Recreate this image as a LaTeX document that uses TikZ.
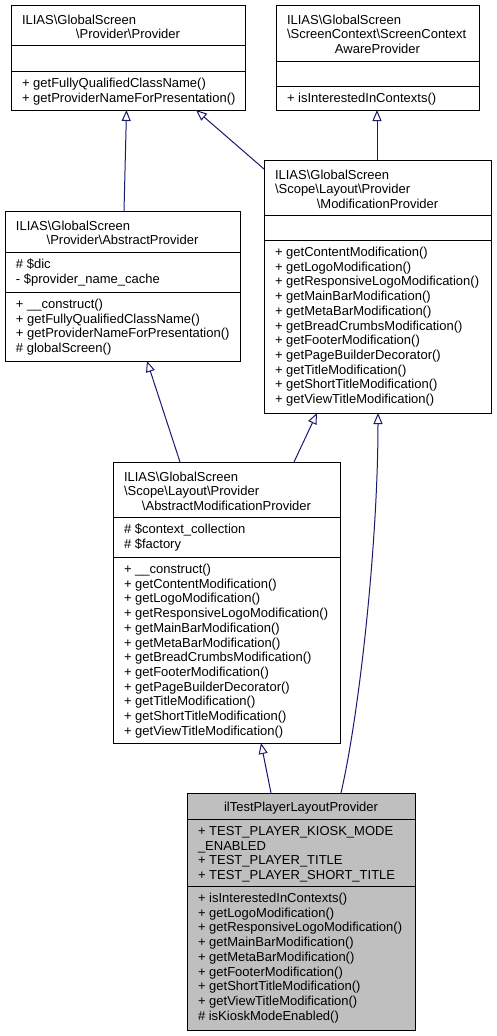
\documentclass[tikz,border=0pt]{standalone}
\usepackage{fontspec}
\setmainfont{Liberation Sans}
\usetikzlibrary{arrows.meta,calc}
\definecolor{edgeblue}{HTML}{191970}
\definecolor{hlfill}{HTML}{BFBFBF}
\newcommand{\bs}{\textbackslash}
\tikzset{
  box/.style={draw=black, line width=1pt, fill=white, inner sep=0pt, outer sep=0pt, anchor=north west, rectangle},
  hlbox/.style={box, fill=hlfill},
  sepline/.style={draw=black, line width=1pt},
  txt/.style={inner sep=0pt, outer sep=0pt, anchor=base west, font=\fontsize{13}{14.7}\selectfont},
  ctxt/.style={txt, anchor=base},
  inherit/.style={draw=edgeblue, line width=1pt, -{Triangle[open, length=11pt, width=9pt, line width=1pt]}}
}
\begin{document}
\begin{tikzpicture}[x=1pt,y=-1pt]
\useasboundingbox (0,0) rectangle (496,1036);
\fill[white] (0,0) rectangle (496,1036);

% ---------- Box 1: Provider
\node[box, minimum width=234pt, minimum height=105pt] (b1) at (11,5) {};
\draw[sepline] (11,45) -- (245,45);
\draw[sepline] (11,71) -- (245,71);
\node[txt] (b1t1) at (22,24) {ILIAS\bs GlobalScreen};
\node[ctxt] (b1t2) at (128,38.7) {\bs Provider\bs Provider};
\foreach \t [count=\i from 0] in {{+ getFullyQualifiedClassName()},{+ getProviderNameForPresentation()}}
  \node[txt] (b1m\i) at (22,{87.5+\i*14.7}) {\t};

% ---------- Box 2: ScreenContextAwareProvider
\node[box, minimum width=203pt, minimum height=105pt] (b2) at (276,5) {};
\draw[sepline] (276,61) -- (479,61);
\draw[sepline] (276,86) -- (479,86);
\node[txt] (b2t1) at (287,24) {ILIAS\bs GlobalScreen};
\node[txt] (b2t2) at (287,38.7) {\bs ScreenContext\bs ScreenContext};
\node[ctxt] (b2t3) at (377.5,53.4) {AwareProvider};
\node[txt] (b2m0) at (287,102.5) {+ isInterestedInContexts()};

% ---------- Box 3: ModificationProvider
\node[box, minimum width=227pt, minimum height=253pt] (b3) at (264,160) {};
\draw[sepline] (264,215) -- (491,215);
\draw[sepline] (264,240) -- (491,240);
\node[txt] (b3t1) at (275,179) {ILIAS\bs GlobalScreen};
\node[txt] (b3t2) at (275,193.7) {\bs Scope\bs Layout\bs Provider};
\node[ctxt] (b3t3) at (377.5,208.4) {\bs ModificationProvider};
\foreach \t [count=\i from 0] in {{+ getContentModification()},{+ getLogoModification()},{+ getResponsiveLogoModification()},{+ getMainBarModification()},{+ getMetaBarModification()},{+ getBreadCrumbsModification()},{+ getFooterModification()},{+ getPageBuilderDecorator()},{+ getTitleModification()},{+ getShortTitleModification()},{+ getViewTitleModification()}}
  \node[txt] (b3m\i) at (275,{256.5+\i*14.7}) {\t};

% ---------- Box 4: AbstractProvider
\node[box, minimum width=235pt, minimum height=150pt] (b4) at (5,211) {};
\draw[sepline] (5,252) -- (240,252);
\draw[sepline] (5,292) -- (240,292);
\node[txt] (b4t1) at (16,230) {ILIAS\bs GlobalScreen};
\node[ctxt] (b4t2) at (122.5,244.7) {\bs Provider\bs AbstractProvider};
\foreach \t [count=\i from 0] in {{\# \$dic},{- \$provider\_name\_cache}}
  \node[txt] (b4a\i) at (16,{268.5+\i*14.7}) {\t};
\foreach \t [count=\i from 0] in {{+ \_\_construct()},{+ getFullyQualifiedClassName()},{+ getProviderNameForPresentation()},{\# globalScreen()}}
  \node[txt] (b4m\i) at (16,{308.5+\i*14.7}) {\t};

% ---------- Box 5: AbstractModificationProvider
\node[box, minimum width=227pt, minimum height=281pt] (b5) at (113,462) {};
\draw[sepline] (113,517) -- (340,517);
\draw[sepline] (113,557) -- (340,557);
\node[txt] (b5t1) at (124,481) {ILIAS\bs GlobalScreen};
\node[txt] (b5t2) at (124,495.7) {\bs Scope\bs Layout\bs Provider};
\node[ctxt] (b5t3) at (226.5,510.4) {\bs AbstractModificationProvider};
\foreach \t [count=\i from 0] in {{\# \$context\_collection},{\# \$factory}}
  \node[txt] (b5a\i) at (124,{533.5+\i*14.7}) {\t};
\foreach \t [count=\i from 0] in {{+ \_\_construct()},{+ getContentModification()},{+ getLogoModification()},{+ getResponsiveLogoModification()},{+ getMainBarModification()},{+ getMetaBarModification()},{+ getBreadCrumbsModification()},{+ getFooterModification()},{+ getPageBuilderDecorator()},{+ getTitleModification()},{+ getShortTitleModification()},{+ getViewTitleModification()}}
  \node[txt] (b5m\i) at (124,{573.5+\i*14.7}) {\t};

% ---------- Box 6: ilTestPlayerLayoutProvider
\node[hlbox, minimum width=228pt, minimum height=237pt] (b6) at (187,793) {};
\draw[sepline] (187,819) -- (415,819);
\draw[sepline] (187,886) -- (415,886);
\node[ctxt] (b6t1) at (301,811.5) {ilTestPlayerLayoutProvider};
\foreach \t [count=\i from 0] in {{+ TEST\_PLAYER\_KIOSK\_MODE},{\_ENABLED},{+ TEST\_PLAYER\_TITLE},{+ TEST\_PLAYER\_SHORT\_TITLE}}
  \node[txt] (b6a\i) at (198,{835.5+\i*14.7}) {\t};
\foreach \t [count=\i from 0] in {{+ isInterestedInContexts()},{+ getLogoModification()},{+ getResponsiveLogoModification()},{+ getMainBarModification()},{+ getMetaBarModification()},{+ getFooterModification()},{+ getShortTitleModification()},{+ getViewTitleModification()},{\# isKioskModeEnabled()}}
  \node[txt] (b6m\i) at (198,{902.5+\i*14.7}) {\t};

% ---------- Inheritance connectors
\draw[inherit] ($(b4.north west)+(119,0)$) -- ($(b1.south west)+(115.5,0)$);
\draw[inherit] ($(b3.north west)+(0,9)$) -- ($(b1.south west)+(185,0)$);
\draw[inherit] ($(b3.north west)+(113,0)$) -- ($(b2.south west)+(101,0)$);
\draw[inherit] ($(b5.north west)+(67,0)$) -- ($(b4.south west)+(142,0)$);
\draw[inherit] ($(b5.north west)+(181,0)$) -- ($(b3.south west)+(53,0)$);
\draw[inherit] ($(b6.north west)+(84,0)$) -- ($(b5.south west)+(148,0)$);
\coordinate (c7a) at (360,710);
\coordinate (c7b) at (378,540);
\draw[inherit] ($(b6.north west)+(154,0)$) .. controls (c7a) and (c7b) .. ($(b3.south west)+(114,0)$);
\end{tikzpicture}
\end{document}
